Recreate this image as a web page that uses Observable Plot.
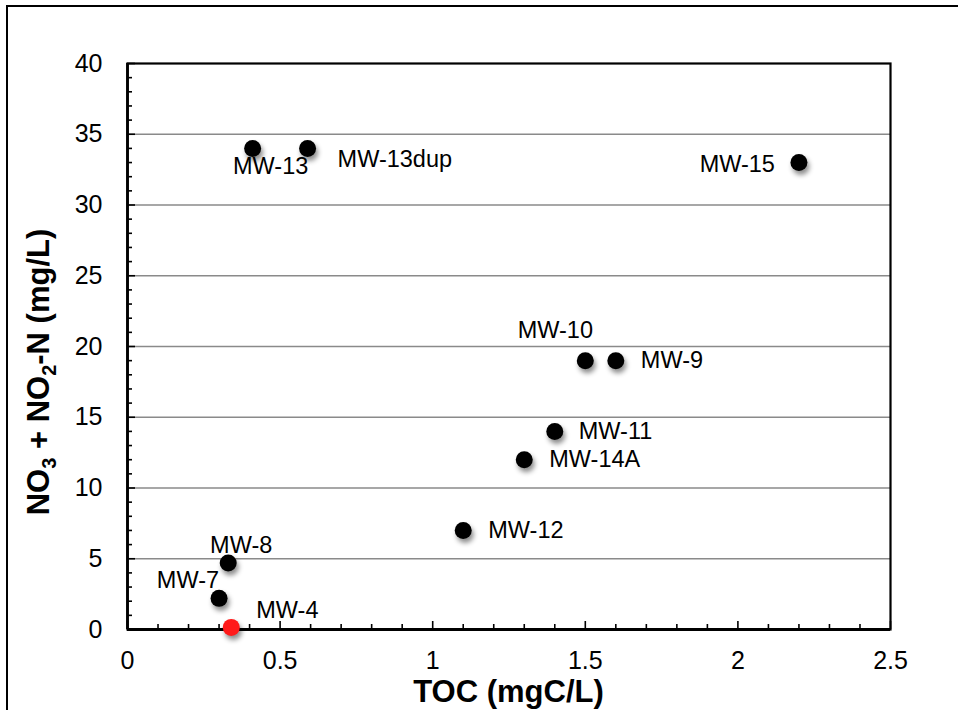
<!DOCTYPE html>
<html><head><meta charset="utf-8">
<script src="https://cdn.jsdelivr.net/npm/d3@7"></script>
<script src="https://cdn.jsdelivr.net/npm/@observablehq/plot@0.6"></script>
<style>
html,body{margin:0;padding:0;background:#fff;overflow:hidden;}
#wrap{position:relative;width:958px;height:710px;overflow:hidden;}
#frame{position:absolute;left:6px;top:5px;width:1000px;height:800px;border:2px solid #000;}
#chart{position:absolute;left:0;top:0;}
</style></head><body>
<div id="wrap"><div id="frame"></div><div id="chart"></div></div>
<script>
// ---- data ----
const wells   = ["MW-13","MW-13dup","MW-15","MW-10","MW-9","MW-11","MW-14A","MW-12","MW-8","MW-7","MW-4"];
const toc     = [0.41, 0.59, 2.20, 1.50, 1.60, 1.40, 1.30, 1.10, 0.33, 0.30, 0.34];
const nitrate = [34.0, 34.0, 33.0, 19.0, 19.0, 14.0, 12.0, 7.0, 4.7, 2.2, 0.15];
const highlightWell = "MW-4";

const xTickValues  = [0, 0.5, 1, 1.5, 2, 2.5];
const xMinorTicks  = [0.1,0.2,0.3,0.4,0.6,0.7,0.8,0.9,1.1,1.2,1.3,1.4,1.6,1.7,1.8,1.9,2.1,2.2,2.3,2.4];
const yTickValues  = [0, 5, 10, 15, 20, 25, 30, 35, 40];
const yGridValues  = [5, 10, 15, 20, 25, 30, 35];
const yMinorTicks  = [1,2,3,4,6,7,8,9,11,12,13,14,16,17,18,19,21,22,23,24,26,27,28,29,31,32,33,34,36,37,38,39];

// ---- label placement (style, not data) ----
const labelPlacement = {
  "MW-13":    {anchor:"middle", dx:18,  dy:18},
  "MW-13dup": {anchor:"start",  dx:30,  dy:11},
  "MW-15":    {anchor:"end",    dx:-24, dy:2},
  "MW-10":    {anchor:"middle", dx:-30, dy:-30},
  "MW-9":     {anchor:"start",  dx:25,  dy:0},
  "MW-11":    {anchor:"start",  dx:24,  dy:0},
  "MW-14A":   {anchor:"start",  dx:25,  dy:0},
  "MW-12":    {anchor:"start",  dx:25,  dy:0},
  "MW-8":     {anchor:"middle", dx:13,  dy:-18},
  "MW-7":     {anchor:"end",    dx:0,   dy:-18},
  "MW-4":     {anchor:"start",  dx:25,  dy:-17}
};

const rows = wells.map((w, i) => ({well: w, toc: toc[i], n: nitrate[i]}));
const fmt = d => String(d);
const FONT = "'Liberation Sans', Arial, Helvetica, sans-serif";

const labelMarks = wells.map(w => {
  const p = labelPlacement[w];
  return Plot.text(rows.filter(r => r.well === w), {
    x: "toc", y: "n", text: "well", textAnchor: p.anchor, dx: p.dx, dy: p.dy,
    fontSize: 23.5, fill: "#000"
  });
});

const chart = Plot.plot({
  width: 958, height: 710,
  marginLeft: 127, marginRight: 68, marginTop: 63, marginBottom: 81,
  style: {fontFamily: FONT, background: "transparent", color: "#000", overflow: "visible"},
  x: {domain: [0, 2.5], label: null},
  y: {domain: [0, 40], label: null},
  marks: [
    Plot.gridY(yGridValues, {stroke: "#8a8a8a", strokeOpacity: 1, strokeWidth: 1.6}),
    Plot.axisX(xMinorTicks, {tickSize: -5, tickFormat: () => "", strokeWidth: 1.6, label: null}),
    Plot.axisX(xTickValues, {tickSize: -8, tickFormat: () => "", strokeWidth: 1.6, label: null}),
    Plot.axisY(yMinorTicks, {tickSize: -5, tickFormat: () => "", strokeWidth: 1.6, label: null}),
    Plot.axisY(yTickValues, {tickSize: -8, tickFormat: () => "", strokeWidth: 1.6, label: null}),
    Plot.axisX(xTickValues, {tickSize: 0, tickPadding: 22, fontSize: 25, tickFormat: fmt, label: null}),
    Plot.axisY(yTickValues, {tickSize: 0, tickPadding: 25, fontSize: 25, tickFormat: fmt, label: null}),
    Plot.frame({stroke: "#000", strokeWidth: 2.2}),
    Plot.ruleY([0], {stroke: "#000", strokeWidth: 2.8}),
    Plot.ruleX([0], {stroke: "#000", strokeWidth: 2.8}),
    Plot.dot(rows, {x: "toc", y: "n", r: 8.5,
      fill: d => d.well === highlightWell ? "#ff1a1a" : "#000", stroke: "none"}),
    ...labelMarks
  ]
});

document.getElementById("chart").appendChild(chart);

const svg = d3.select(chart);
svg.selectAll("g[aria-label='dot']").style("filter", "drop-shadow(2px 4px 2.5px rgba(0,0,0,0.45))");

// axis titles
const xr = chart.scale("x").range, yr = chart.scale("y").range;
svg.append("text")
  .attr("x", (xr[0] + xr[1]) / 2).attr("y", 702)
  .attr("text-anchor", "middle").attr("font-family", FONT)
  .attr("font-size", 31).attr("font-weight", "bold").attr("fill", "#000")
  .text("TOC (mgC/L)");

const yl = svg.append("text")
  .attr("transform", `translate(49,${(yr[0] + yr[1]) / 2 + 26}) rotate(-90)`)
  .attr("text-anchor", "middle").attr("font-family", FONT)
  .attr("font-size", 31).attr("font-weight", "bold").attr("fill", "#000");
yl.append("tspan").text("NO");
yl.append("tspan").attr("font-size", 20).attr("dy", 7).text("3");
yl.append("tspan").attr("dy", -7).text(" + NO");
yl.append("tspan").attr("font-size", 20).attr("dy", 7).text("2");
yl.append("tspan").attr("dy", -7).text("-N (mg/L)");
</script>
</body></html>
